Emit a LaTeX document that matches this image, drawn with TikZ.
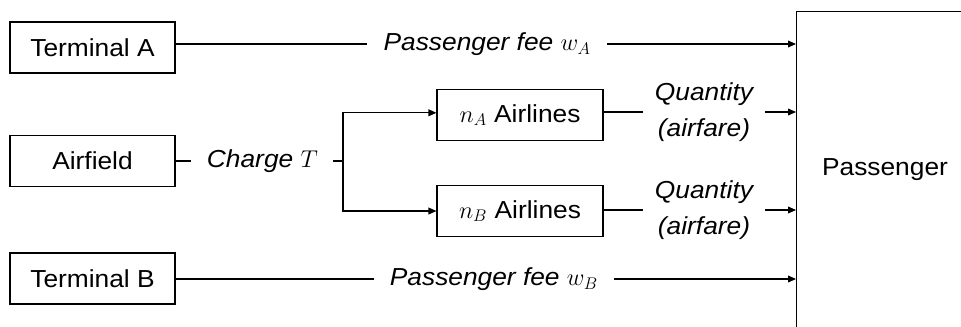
\documentclass[tikz,border=0pt]{standalone}
\usepackage{fontspec}
\setmainfont{Liberation Sans}[FakeStretch=1.07]
\usepackage{tikz}
\usetikzlibrary{arrows.meta,positioning,calc}

\begin{document}
\begin{tikzpicture}[
        every node/.style={font=\fontsize{17.5}{26}\selectfont},
        box/.style={draw, line width=0.8pt, minimum width=4.125cm, minimum height=1.275cm},
        lbl/.style={font=\fontsize{17.5}{26}\selectfont\itshape, inner xsep=0.4cm, align=center},
        line/.style={line width=0.8pt},
    ]
        \useasboundingbox (0,0) rectangle (24.025,-8.175);
        \clip (0,0) rectangle (24.025,-8.175);

        % Suppliers
        \node[box] (termA) at (2.3125,-1.1875) {Terminal A};
        \node[box] (field) at (2.3125,-4.025) {Airfield};
        \node[box] (termB) at (2.3125,-6.9625) {Terminal B};

        % Airlines
        \node[box, minimum width=4.15cm] (airA) at (13.0,-2.875) {$n_A$ Airlines};
        \node[box, minimum width=4.15cm] (airB) at (13.0,-5.275) {$n_B$ Airlines};

        % Passenger
        \node[draw, line width=0.8pt, anchor=north west,
              minimum width=6cm, minimum height=9cm] (pass) at (19.9,-0.275) {};
        \node (passtxt) at (22.125,-4.25) {Passenger};

        % Labels
        \node[lbl] (feeA) at (12.18,-1.1) {Passenger fee $w_A$};
        \node[lbl] (feeB) at (12.35,-6.975) {Passenger fee $w_B$};
        \node[lbl, inner xsep=0.38cm] (charge) at (6.56,-4.025) {Charge $T$};
        \node[lbl, inner xsep=0.3cm] (qtyA) at (17.6,-2.8) {Quantity\\(airfare)};
        \node[lbl, inner xsep=0.3cm] (qtyB) at (17.6,-5.25) {Quantity\\(airfare)};
        \coordinate (split) at (8.575,-4.025);

        % Arrows
        \draw[line] (termA.east |- feeA) -- (feeA);
        \draw[line, -{Triangle[length=2mm,width=1.7mm]}] (feeA) -- (feeA -| pass.west);
        \draw[line] (termB.east |- feeB) -- (feeB);
        \draw[line, -{Triangle[length=2mm,width=1.7mm]}] (feeB) -- (feeB -| pass.west);
        \draw[line] (field) -- (charge);
        \draw[line] (charge) -- (split);
        \draw[line, -{Triangle[length=2mm,width=1.7mm]}] (split) |- (airA.west |- 0,-2.82);
        \draw[line, -{Triangle[length=2mm,width=1.7mm]}] (split) |- (airB);
        \draw[line] (airA.east |- qtyA) -- (qtyA);
        \draw[line, -{Triangle[length=2mm,width=1.7mm]}] (qtyA) -- (qtyA -| pass.west);
        \draw[line] (airB.east |- qtyB) -- (qtyB);
        \draw[line, -{Triangle[length=2mm,width=1.7mm]}] (qtyB) -- (qtyB -| pass.west);
    \end{tikzpicture}
\end{document}
